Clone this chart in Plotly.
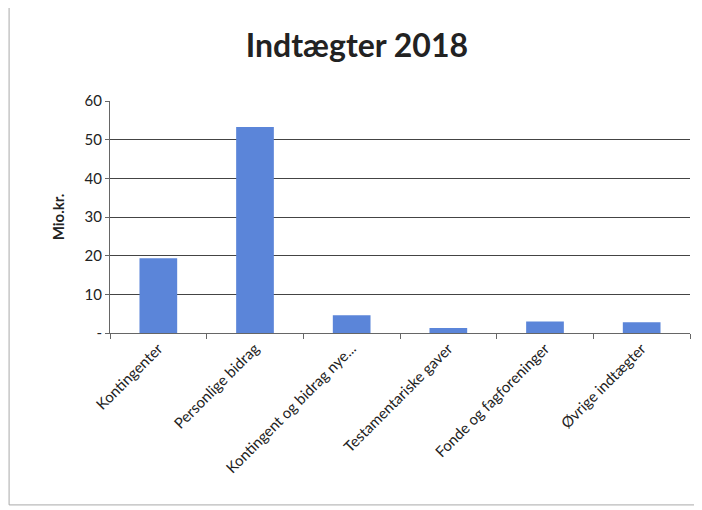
import plotly.graph_objects as go

categories = ["Kontingenter", "Personlige bidrag", "Kontingent og bidrag nye...",
              "Testamentariske gaver", "Fonde og fagforeninger", "Øvrige indtægter"]
values = [19.3, 53.3, 4.6, 1.3, 3.0, 2.8]
y_tickvals = [0, 10, 20, 30, 40, 50, 60]
y_ticktext = ["-", "10", "20", "30", "40", "50", "60"]

fig = go.Figure(go.Bar(x=categories, y=values, marker=dict(color="#5B85D9", line=dict(width=0))))

fig.update_layout(
    width=702, height=510,
    paper_bgcolor="white", plot_bgcolor="white",
    margin=dict(l=102, r=20, t=93, b=185, autoexpand=False),
    bargap=0.61,
    font=dict(family="Lato, Open Sans, sans-serif", color="#222"),
    title=dict(text="<b>Indtægter 2018</b>", x=0.497, xanchor="center", y=0.925, yanchor="middle",
               xref="container", font=dict(size=32, color="#222")),
    showlegend=False,
)
fig.update_yaxes(range=[0, 60], tickvals=y_tickvals, ticktext=y_ticktext, automargin=False,
                 showgrid=True, gridcolor="#444", gridwidth=1,
                 showline=True, linecolor="#666", linewidth=1,
                 ticks="outside", ticklen=4, tickcolor="#666",
                 tickfont=dict(size=15, color="#222"),
                 title=dict(text="<b>Mio.kr.</b>", font=dict(size=15, color="#222"), standoff=16))
fig.update_xaxes(showline=True, linecolor="#666", linewidth=1, automargin=False,
                 ticks="outside", tickson="boundaries", ticklen=5, tickcolor="#666",
                 tickangle=-45, tickfont=dict(size=15, color="#222"))

fig.add_shape(type="line", xref="paper", yref="paper", x0=-0.174, x1=-0.174, y0=-0.741, y1=1.6,
              line=dict(color="#aaa", width=1))
fig.add_shape(type="line", xref="paper", yref="paper", x0=-0.174, x1=1.04, y0=-0.741, y1=-0.741,
              line=dict(color="#aaa", width=1))

fig.write_html("out.html")
